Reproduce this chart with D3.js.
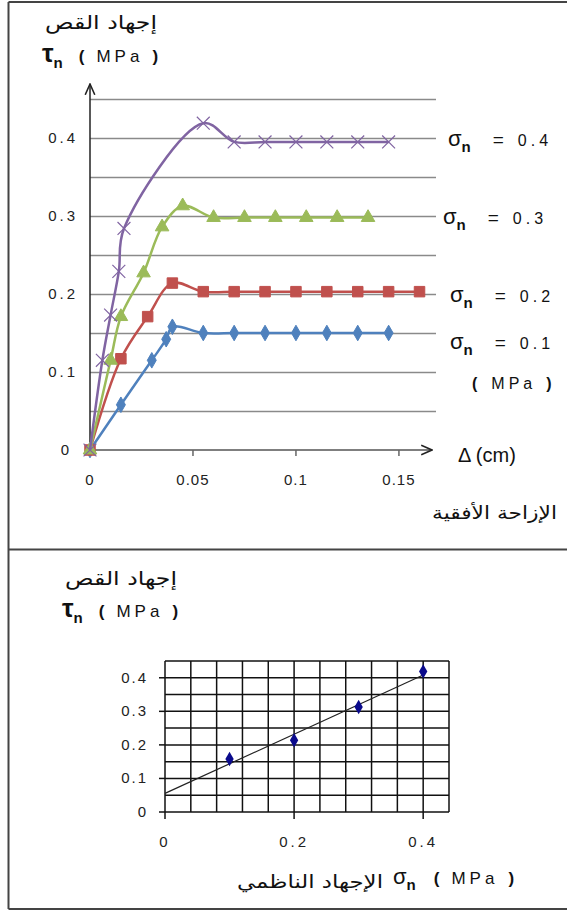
<!DOCTYPE html>
<html lang="ar">
<head>
  <meta charset="UTF-8">
  <title>Shear stress vs displacement</title>
  <script src="https://d3js.org/d3.v7.min.js"></script>
  <style>
    body { margin: 0; background: #fff; }
    svg { display: block; }
    .tick-lbl { font-family: "Liberation Sans", Arial, sans-serif; font-size: 15px; fill: #222; }
    .ar { font-family: "DejaVu Sans", sans-serif; font-size: 18px; fill: #111; }
    .lat { font-family: "Liberation Sans", Arial, sans-serif; fill: #111; }
  </style>
</head>
<body>
  <svg width="567" height="911"></svg>

  <script>
    // top chart: shear stress vs horizontal displacement, one series per normal stress
    const sigmaLevels = [0.1, 0.2, 0.3, 0.4];
    const disp01 = [0, 0.015, 0.03, 0.037, 0.04, 0.055, 0.07, 0.085, 0.1, 0.115, 0.13, 0.145];
    const tau01  = [0, 0.058, 0.115, 0.142, 0.158, 0.15, 0.15, 0.15, 0.15, 0.15, 0.15, 0.15];
    const disp02 = [0, 0.015, 0.028, 0.04, 0.055, 0.07, 0.085, 0.1, 0.115, 0.13, 0.145, 0.16];
    const tau02  = [0, 0.117, 0.171, 0.214, 0.203, 0.203, 0.203, 0.203, 0.203, 0.203, 0.203, 0.203];
    const disp03 = [0, 0.01, 0.015, 0.026, 0.035, 0.045, 0.06, 0.075, 0.09, 0.105, 0.12, 0.135];
    const tau03  = [0, 0.115, 0.171, 0.227, 0.286, 0.313, 0.298, 0.298, 0.298, 0.298, 0.298, 0.298];
    const disp04 = [0, 0.006, 0.01, 0.014, 0.0165, 0.055, 0.07, 0.085, 0.1, 0.115, 0.13, 0.145];
    const tau04  = [0, 0.115, 0.173, 0.229, 0.284, 0.419, 0.395, 0.395, 0.395, 0.395, 0.395, 0.395];
    const xTicksTop = [0, 0.05, 0.1, 0.15];
    const yTicksTop = [0, 0.1, 0.2, 0.3, 0.4];

    // bottom chart: peak shear stress vs normal stress
    const normalStress = [0.1, 0.2, 0.3, 0.4];
    const peakShear = [0.158, 0.214, 0.313, 0.419];
    const xTicksBot = [0, 0.2, 0.4];
    const yTicksBot = [0, 0.1, 0.2, 0.3, 0.4];

    const svg = d3.select("svg");

    // frame
    svg.append("path")
      .attr("d", "M8.5,2 V909 M8.5,2 H567 M8.5,909 H567 M8.5,549.5 H567")
      .attr("fill", "none").attr("stroke", "#444").attr("stroke-width", 2);

    // ---------- top chart ----------
    const x = d3.scaleLinear().domain([0, 0.168]).range([90, 436]);
    const y = d3.scaleLinear().domain([0, 0.45]).range([450, 99]);

    const gT = svg.append("g");
    gT.selectAll(".hgrid")
      .data(d3.range(1, 10).map(i => i * 0.05))
      .enter().append("line")
      .attr("x1", x(0)).attr("x2", x(0.168))
      .attr("y1", d => Math.round(y(d)) + 0.5).attr("y2", d => Math.round(y(d)) + 0.5)
      .attr("stroke", "#8a8a8a").attr("stroke-width", 1.5);

    const defs = svg.append("defs");
    defs.append("marker").attr("id", "arr")
      .attr("viewBox", "0 0 10 10").attr("refX", 9).attr("refY", 5)
      .attr("markerWidth", 8).attr("markerHeight", 8).attr("orient", "auto")
      .append("path").attr("d", "M0,1 L9,5 L0,9").attr("fill", "none").attr("stroke", "#222").attr("stroke-width", 1.3);

    gT.append("line").attr("x1", x(0)).attr("x2", x(0)).attr("y1", y(0)).attr("y2", 84)
      .attr("stroke", "#222").attr("stroke-width", 1.5).attr("marker-end", "url(#arr)");
    gT.append("line").attr("x1", x(0)).attr("x2", 432).attr("y1", y(0)).attr("y2", y(0))
      .attr("stroke", "#555").attr("stroke-width", 1.5).attr("marker-end", "url(#arr)");

    gT.selectAll(".xt").data(xTicksTop.slice(1)).enter().append("line")
      .attr("x1", d => x(d)).attr("x2", d => x(d)).attr("y1", y(0)).attr("y2", y(0) + 6)
      .attr("stroke", "#666").attr("stroke-width", 1.5);
    gT.selectAll(".xl").data(xTicksTop).enter().append("text")
      .attr("class", "tick-lbl").attr("x", d => x(d)).attr("y", 485)
      .attr("text-anchor", "middle").style("letter-spacing", "1px").text(d => d);
    gT.selectAll(".yl").data(yTicksTop).enter().append("text")
      .attr("class", "tick-lbl").attr("x", d => d === 0 ? 72 : 78).attr("y", d => y(d) + 5)
      .attr("text-anchor", "end").style("letter-spacing", "3px").text(d => d);

    const series = [
      { xs: disp01, ys: tau01, color: "#4f81bd", mark: "diamond" },
      { xs: disp02, ys: tau02, color: "#c0504d", mark: "square" },
      { xs: disp03, ys: tau03, color: "#9bbb59", mark: "triangle" },
      { xs: disp04, ys: tau04, color: "#8064a2", mark: "x" }
    ];

    const line = d3.line().x(d => x(d[0])).y(d => y(d[1])).curve(d3.curveCatmullRom.alpha(0.5));
    const symbols = {
      diamond: d3.symbol().type(d3.symbolDiamond).size(70),
      square: d3.symbol().type(d3.symbolSquare).size(110),
      triangle: d3.symbol().type(d3.symbolTriangle).size(80),
      x: d3.symbol().type(d3.symbolX).size(110)
    };

    series.forEach(s => {
      const pts = s.xs.map((v, i) => [v, s.ys[i]]);
      gT.append("path").datum(pts)
        .attr("fill", "none").attr("stroke", s.color).attr("stroke-width", 2.5)
        .attr("d", line);
      gT.selectAll(null).data(pts).enter().append("path")
        .attr("transform", d => `translate(${x(d[0])},${y(d[1])})`)
        .attr("d", symbols[s.mark]())
        .attr("fill", s.mark === "x" ? "none" : s.color)
        .attr("stroke", s.color)
        .attr("stroke-width", s.mark === "x" ? 1.2 : 1);
    });

    // series labels on the right
    const labelPos = { 0.4: [448, 141], 0.3: [443, 219], 0.2: [450, 297], 0.1: [450, 344] };
    sigmaLevels.forEach(v => {
      const [lx, ly] = labelPos[v];
      const t = gT.append("text").attr("class", "lat").attr("x", lx).attr("y", ly + 5);
      t.append("tspan").style("font-size", "22px").text("σ");
      t.append("tspan").attr("dy", 6).style("font-size", "15px").style("font-weight", "bold").text("n");
      t.append("tspan").attr("dy", -6).attr("dx", 22).style("font-size", "19px").text("=");
      t.append("tspan").attr("dx", 14).style("font-size", "16px").style("letter-spacing", "4px").text(v);
    });
    const mpaLeg = gT.append("text").attr("class", "lat").attr("x", 472).attr("y", 389).style("font-size", "16px");
    mpaLeg.append("tspan").style("font-weight", "bold").text("(");
    mpaLeg.append("tspan").attr("dx", 14).style("letter-spacing", "4px").text("MPa");
    mpaLeg.append("tspan").attr("dx", 10).style("font-weight", "bold").text(")");

    gT.append("text").attr("class", "lat").attr("x", 458).attr("y", 462)
      .style("font-size", "20px").text("Δ (cm)");
    gT.append("text").attr("class", "ar").attr("x", 432).attr("y", 519)
      .attr("textLength", 125).attr("lengthAdjust", "spacingAndGlyphs").text("الإزاحة الأفقية");

    // axis titles
    function tauTitle(g, tx, ty, ay) {
      g.append("text").attr("class", "ar").attr("x", tx + 3).attr("y", ay)
        .style("font-size", "19px").attr("textLength", 112).attr("lengthAdjust", "spacingAndGlyphs")
        .text("إجهاد القص");
      const t = g.append("text").attr("class", "lat").attr("x", tx).attr("y", ty);
      t.append("tspan").style("font-size", "26px").style("font-weight", "bold").text("τ");
      t.append("tspan").attr("dy", 6).style("font-size", "15px").style("font-weight", "bold").text("n");
      t.append("tspan").attr("dy", -6).attr("dx", 16).style("font-size", "17px").style("font-weight", "bold").text("(");
      t.append("tspan").attr("dx", 12).style("font-size", "17px").style("letter-spacing", "4px").text("MPa");
      t.append("tspan").attr("dx", 9).style("font-size", "17px").style("font-weight", "bold").text(")");
    }
    tauTitle(svg, 42, 62, 29);

    // ---------- bottom chart ----------
    const xb = d3.scaleLinear().domain([0, 0.44]).range([165, 449]);
    const yb = d3.scaleLinear().domain([0, 0.45]).range([812, 661]);
    const gB = svg.append("g");

    gB.selectAll(".vg").data(d3.range(0, 12).map(i => i * 0.04)).enter().append("line")
      .attr("x1", d => xb(d)).attr("x2", d => xb(d)).attr("y1", yb(0)).attr("y2", yb(0.45))
      .attr("stroke", "#111").attr("stroke-width", 1.5);
    gB.selectAll(".hg").data(d3.range(0, 10).map(i => i * 0.05)).enter().append("line")
      .attr("x1", xb(0)).attr("x2", xb(0.44)).attr("y1", d => yb(d)).attr("y2", d => yb(d))
      .attr("stroke", "#111").attr("stroke-width", 1.5);

    gB.selectAll(".yt").data(yTicksBot).enter().append("line")
      .attr("x1", xb(0) - 6).attr("x2", xb(0)).attr("y1", d => yb(d)).attr("y2", d => yb(d))
      .attr("stroke", "#111").attr("stroke-width", 1.5);
    gB.selectAll(".xt").data(xTicksBot).enter().append("line")
      .attr("x1", d => xb(d)).attr("x2", d => xb(d)).attr("y1", yb(0)).attr("y2", yb(0) + 7)
      .attr("stroke", "#111").attr("stroke-width", 1.5);
    gB.selectAll(".yl").data(yTicksBot).enter().append("text")
      .attr("class", "tick-lbl").attr("x", 148).attr("y", d => yb(d) + 5)
      .attr("text-anchor", "end").style("letter-spacing", "2px").text(d => d);
    gB.selectAll(".xl").data(xTicksBot).enter().append("text")
      .attr("class", "tick-lbl").attr("x", d => xb(d)).attr("y", 847)
      .attr("text-anchor", "middle").style("letter-spacing", "3px").text(d => d);

    // least-squares trend line through the peak points
    const mx = d3.mean(normalStress), my = d3.mean(peakShear);
    const slope = d3.sum(normalStress, (v, i) => (v - mx) * (peakShear[i] - my)) /
                  d3.sum(normalStress, v => (v - mx) * (v - mx));
    const icpt = my - slope * mx;
    gB.append("line")
      .attr("x1", xb(0)).attr("y1", yb(icpt))
      .attr("x2", xb(0.4)).attr("y2", yb(icpt + slope * 0.4))
      .attr("stroke", "#222").attr("stroke-width", 1.2);

    gB.selectAll(".pt").data(normalStress).enter().append("path")
      .attr("transform", (d, i) => `translate(${xb(d)},${yb(peakShear[i])})`)
      .attr("d", d3.symbol().type(d3.symbolDiamond).size(60)())
      .attr("fill", "#0a0a8c");

    tauTitle(svg, 62, 617, 585);

    gB.append("text").attr("class", "ar").attr("x", 237).attr("y", 888)
      .attr("textLength", 146).attr("lengthAdjust", "spacingAndGlyphs").text("الإجهاد الناظمي");
    const sb = gB.append("text").attr("class", "lat").attr("x", 393).attr("y", 884);
    sb.append("tspan").style("font-size", "22px").text("σ");
    sb.append("tspan").attr("dy", 6).style("font-size", "15px").style("font-weight", "bold").text("n");
    sb.append("tspan").attr("dy", -6).attr("dx", 18).style("font-size", "17px").style("font-weight", "bold").text("(");
    sb.append("tspan").attr("dx", 12).style("font-size", "17px").style("letter-spacing", "4px").text("MPa");
    sb.append("tspan").attr("dx", 10).style("font-size", "17px").style("font-weight", "bold").text(")");
  </script>
</body>
</html>
